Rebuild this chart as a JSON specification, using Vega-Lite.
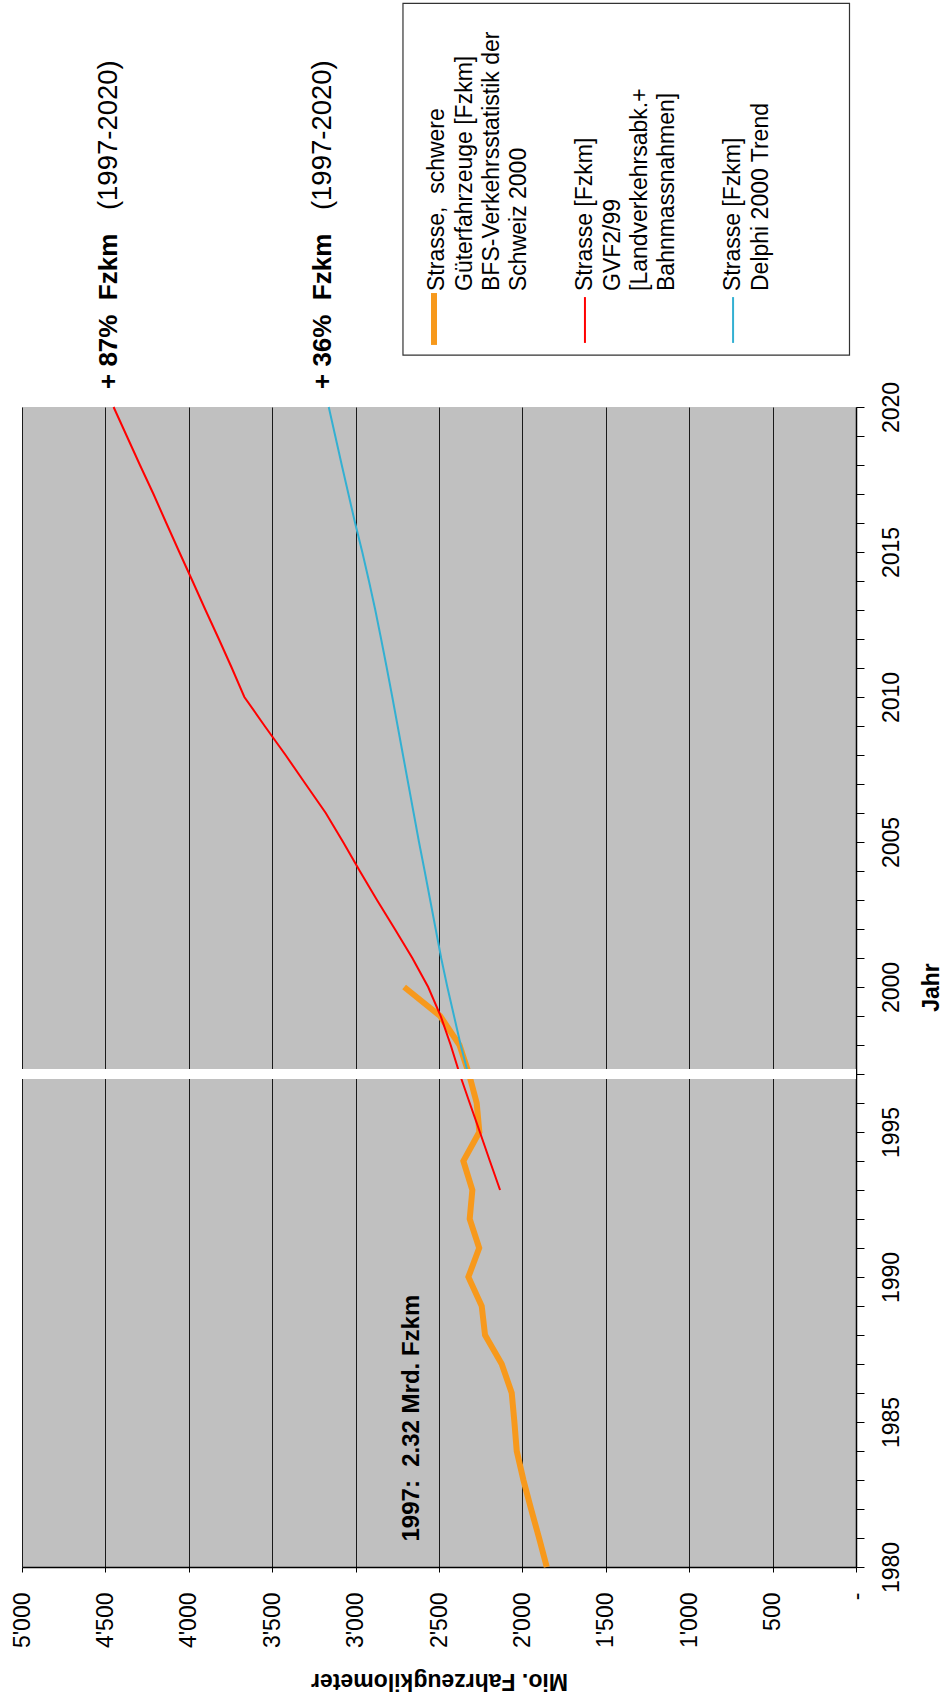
{
  "$schema": "https://vega.github.io/schema/vega-lite/v6.json",
  "width": 834,
  "height": 1160,
  "autosize": {"type": "none"},
  "padding": {"left": 22, "top": 407, "right": 90, "bottom": 130},
  "background": "white",
  "config": {
    "view": {"fill": "#C0C0C0", "stroke": null},
    "font": "Liberation Sans",
    "text": {"font": "Liberation Sans"}
  },
  "resolve": {"axis": {"x": "independent", "y": "independent"}},
  "datasets": {
    "series": [
      {"series": "BFS", "year": 1980, "value": 1854},
      {"series": "BFS", "year": 1981, "value": 1900},
      {"series": "BFS", "year": 1982, "value": 1948},
      {"series": "BFS", "year": 1983, "value": 1994},
      {"series": "BFS", "year": 1984, "value": 2034},
      {"series": "BFS", "year": 1985, "value": 2048},
      {"series": "BFS", "year": 1986, "value": 2064},
      {"series": "BFS", "year": 1987, "value": 2124},
      {"series": "BFS", "year": 1988, "value": 2224},
      {"series": "BFS", "year": 1989, "value": 2244},
      {"series": "BFS", "year": 1990, "value": 2324},
      {"series": "BFS", "year": 1991, "value": 2259},
      {"series": "BFS", "year": 1992, "value": 2316},
      {"series": "BFS", "year": 1993, "value": 2300},
      {"series": "BFS", "year": 1994, "value": 2354},
      {"series": "BFS", "year": 1995, "value": 2258},
      {"series": "BFS", "year": 1996, "value": 2274},
      {"series": "BFS", "year": 1997, "value": 2320},
      {"series": "BFS", "year": 1998, "value": 2377},
      {"series": "BFS", "year": 1999, "value": 2493},
      {"series": "BFS", "year": 2000, "value": 2709},
      {"series": "Delphi", "year": 1997, "value": 2325},
      {"series": "Delphi", "year": 1998, "value": 2370},
      {"series": "Delphi", "year": 1999, "value": 2410},
      {"series": "Delphi", "year": 2000, "value": 2450},
      {"series": "Delphi", "year": 2001, "value": 2487},
      {"series": "Delphi", "year": 2002, "value": 2520},
      {"series": "Delphi", "year": 2003, "value": 2553},
      {"series": "Delphi", "year": 2004, "value": 2586},
      {"series": "Delphi", "year": 2005, "value": 2620},
      {"series": "Delphi", "year": 2006, "value": 2652},
      {"series": "Delphi", "year": 2007, "value": 2684},
      {"series": "Delphi", "year": 2008, "value": 2716},
      {"series": "Delphi", "year": 2009, "value": 2748},
      {"series": "Delphi", "year": 2010, "value": 2780},
      {"series": "Delphi", "year": 2011, "value": 2813},
      {"series": "Delphi", "year": 2012, "value": 2847},
      {"series": "Delphi", "year": 2013, "value": 2882},
      {"series": "Delphi", "year": 2014, "value": 2920},
      {"series": "Delphi", "year": 2015, "value": 2960},
      {"series": "Delphi", "year": 2016, "value": 3003},
      {"series": "Delphi", "year": 2017, "value": 3043},
      {"series": "Delphi", "year": 2018, "value": 3083},
      {"series": "Delphi", "year": 2019, "value": 3122},
      {"series": "Delphi", "year": 2020, "value": 3161},
      {"series": "GVF", "year": 1993, "value": 2134},
      {"series": "GVF", "year": 1994, "value": 2195},
      {"series": "GVF", "year": 1995, "value": 2255},
      {"series": "GVF", "year": 1996, "value": 2316},
      {"series": "GVF", "year": 1997, "value": 2376},
      {"series": "GVF", "year": 1998, "value": 2430},
      {"series": "GVF", "year": 1999, "value": 2490},
      {"series": "GVF", "year": 2000, "value": 2565},
      {"series": "GVF", "year": 2001, "value": 2660},
      {"series": "GVF", "year": 2002, "value": 2765},
      {"series": "GVF", "year": 2003, "value": 2872},
      {"series": "GVF", "year": 2004, "value": 2975},
      {"series": "GVF", "year": 2005, "value": 3075},
      {"series": "GVF", "year": 2006, "value": 3179},
      {"series": "GVF", "year": 2007, "value": 3300},
      {"series": "GVF", "year": 2008, "value": 3420},
      {"series": "GVF", "year": 2009, "value": 3545},
      {"series": "GVF", "year": 2010, "value": 3667},
      {"series": "GVF", "year": 2011, "value": 3742},
      {"series": "GVF", "year": 2012, "value": 3820},
      {"series": "GVF", "year": 2013, "value": 3900},
      {"series": "GVF", "year": 2014, "value": 3978},
      {"series": "GVF", "year": 2015, "value": 4057},
      {"series": "GVF", "year": 2016, "value": 4135},
      {"series": "GVF", "year": 2017, "value": 4212},
      {"series": "GVF", "year": 2018, "value": 4293},
      {"series": "GVF", "year": 2019, "value": 4372},
      {"series": "GVF", "year": 2020, "value": 4451}
    ]
  },
  "layer": [
    {
      "data": {"name": "series"},
      "mark": {"type": "line", "strokeCap": "butt", "strokeJoin": "miter"},
      "encoding": {
        "x": {
          "field": "value",
          "type": "quantitative",
          "scale": {"domain": [0, 5000], "reverse": true, "nice": false, "zero": false},
          "axis": {
            "orient": "bottom",
            "values": [0, 500, 1000, 1500, 2000, 2500, 3000, 3500, 4000, 4500, 5000],
            "grid": true,
            "gridColor": "#1a1a1a",
            "gridOpacity": 1,
            "gridWidth": 1,
            "domainColor": "#000000",
            "domainWidth": 1.5,
            "tickColor": "#000000",
            "tickSize": 5,
            "labelAngle": 270,
            "labelAlign": "right",
            "labelBaseline": "middle",
            "labelPadding": 20,
            "labelFontSize": 23,
            "labelColor": "#000000",
            "labelFlush": false,
            "labelOverlap": false,
            "labelExpr": "datum.value == 0 ? '-' : replace(format(datum.value, ','), ',', \"'\")",
            "title": "Mio. Fahrzeugkilometer",
            "titleAngle": 180,
            "titleFontSize": 23,
            "titleFontWeight": "bold",
            "titleColor": "#000000",
            "titleY": 113,
            "titleBaseline": "middle",
            "titleAlign": "center"
          }
        },
        "y": {
          "field": "year",
          "type": "quantitative",
          "scale": {"domain": [1980, 2020], "nice": false, "zero": false},
          "axis": {
            "orient": "right",
            "values": [1980, 1981, 1982, 1983, 1984, 1985, 1986, 1987, 1988, 1989, 1990, 1991, 1992, 1993, 1994, 1995, 1996, 1997, 1998, 1999, 2000, 2001, 2002, 2003, 2004, 2005, 2006, 2007, 2008, 2009, 2010, 2011, 2012, 2013, 2014, 2015, 2016, 2017, 2018, 2019, 2020],
            "grid": false,
            "domainColor": "#000000",
            "domainWidth": 1.5,
            "tickColor": "#000000",
            "tickSize": 8,
            "labelAngle": 270,
            "labelAlign": "center",
            "labelBaseline": "top",
            "labelPadding": 16,
            "labelFontSize": 23,
            "labelColor": "#000000",
            "labelOverlap": false,
            "labelFlush": false,
            "labelExpr": "datum.value % 5 == 0 ? '' + datum.value : ''",
            "title": "Jahr",
            "titleAngle": 270,
            "titleFontSize": 23,
            "titleFontWeight": "bold",
            "titleColor": "#000000",
            "titleX": 75,
            "titleY": 580,
            "titleAlign": "center",
            "titleBaseline": "middle"
          }
        },
        "order": {"field": "year", "type": "quantitative"},
        "color": {
          "field": "series",
          "type": "nominal",
          "scale": {"domain": ["BFS", "Delphi", "GVF"], "range": ["#F7991C", "#33B0D2", "#FF0000"]},
          "legend": null
        },
        "strokeWidth": {
          "field": "series",
          "type": "nominal",
          "scale": {"type": "ordinal", "domain": ["BFS", "Delphi", "GVF"], "range": [6, 2, 2]},
          "legend": null
        }
      }
    },
    {
      "data": {"values": [{"gap": "1997"}]},
      "mark": {"type": "rule", "color": "white", "strokeWidth": 10},
      "encoding": {"y": {"datum": 1997, "type": "quantitative", "axis": null}}
    },
    {
      "data": {"values": [{"label": "1997:\u00a0 2.32 Mrd. Fzkm"}]},
      "mark": {"type": "text", "angle": 270, "align": "left", "baseline": "middle", "fontSize": 24, "fontWeight": "bold", "color": "#000000"},
      "encoding": {
        "x": {"datum": 2659, "type": "quantitative", "axis": null},
        "y": {"datum": 1980.88, "type": "quantitative", "axis": null},
        "text": {"field": "label"}
      }
    },
    {
      "data": {"values": [{"label": "+ 87%\u00a0 Fzkm"}]},
      "mark": {"type": "text", "angle": 270, "align": "left", "baseline": "middle", "fontSize": 26, "fontWeight": "bold", "color": "#000000"},
      "encoding": {
        "x": {"datum": 4481, "type": "quantitative", "axis": null},
        "y": {"datum": 2020.62, "type": "quantitative", "axis": null},
        "text": {"field": "label"}
      }
    },
    {
      "data": {"values": [{"label": "(1997-2020)"}]},
      "mark": {"type": "text", "angle": 270, "align": "left", "baseline": "middle", "fontSize": 27.5, "color": "#000000"},
      "encoding": {
        "x": {"datum": 4481, "type": "quantitative", "axis": null},
        "y": {"datum": 2026.79, "type": "quantitative", "axis": null},
        "text": {"field": "label"}
      }
    },
    {
      "data": {"values": [{"label": "+ 36%\u00a0 Fzkm"}]},
      "mark": {"type": "text", "angle": 270, "align": "left", "baseline": "middle", "fontSize": 26, "fontWeight": "bold", "color": "#000000"},
      "encoding": {
        "x": {"datum": 3198, "type": "quantitative", "axis": null},
        "y": {"datum": 2020.62, "type": "quantitative", "axis": null},
        "text": {"field": "label"}
      }
    },
    {
      "data": {"values": [{"label": "(1997-2020)"}]},
      "mark": {"type": "text", "angle": 270, "align": "left", "baseline": "middle", "fontSize": 27.5, "color": "#000000"},
      "encoding": {
        "x": {"datum": 3198, "type": "quantitative", "axis": null},
        "y": {"datum": 2026.79, "type": "quantitative", "axis": null},
        "text": {"field": "label"}
      }
    },
    {
      "data": {"values": [{"box": "legend"}]},
      "mark": {"type": "rect", "fill": "white", "stroke": "#333333", "strokeWidth": 1.2},
      "encoding": {
        "x": {"datum": 2716, "type": "quantitative", "axis": null},
        "x2": {"datum": 39},
        "y": {"datum": 2033.92, "type": "quantitative", "axis": null},
        "y2": {"datum": 2021.79}
      }
    },
    {
      "data": {"values": [{"series": "BFS"}]},
      "mark": {"type": "rule", "color": "#F7991C", "strokeWidth": 6, "strokeCap": "butt"},
      "encoding": {
        "x": {"datum": 2530, "type": "quantitative", "axis": null},
        "y": {"datum": 2023.93, "type": "quantitative", "axis": null},
        "y2": {"datum": 2022.14}
      }
    },
    {
      "data": {"values": [{"series": "GVF"}]},
      "mark": {"type": "rule", "color": "#FF0000", "strokeWidth": 2, "strokeCap": "butt"},
      "encoding": {
        "x": {"datum": 1625, "type": "quantitative", "axis": null},
        "y": {"datum": 2023.79, "type": "quantitative", "axis": null},
        "y2": {"datum": 2022.21}
      }
    },
    {
      "data": {"values": [{"series": "Delphi"}]},
      "mark": {"type": "rule", "color": "#33B0D2", "strokeWidth": 2, "strokeCap": "butt"},
      "encoding": {
        "x": {"datum": 737, "type": "quantitative", "axis": null},
        "y": {"datum": 2023.79, "type": "quantitative", "axis": null},
        "y2": {"datum": 2022.21}
      }
    },
    {
      "data": {"values": [{"label": ["Strasse,\u00a0 schwere", "Güterfahrzeuge [Fzkm]", "BFS-Verkehrsstatistik der", "Schweiz 2000"]}]},
      "mark": {"type": "text", "angle": 270, "align": "left", "baseline": "top", "fontSize": 23, "lineHeight": 27.3, "color": "#000000"},
      "encoding": {
        "x": {"datum": 2576, "type": "quantitative", "axis": null},
        "y": {"datum": 2024.0, "type": "quantitative", "axis": null},
        "text": {"field": "label"}
      }
    },
    {
      "data": {"values": [{"label": ["Strasse [Fzkm]", "GVF2/99", "[Landverkehrsabk.+", "Bahnmassnahmen]"]}]},
      "mark": {"type": "text", "angle": 270, "align": "left", "baseline": "top", "fontSize": 23, "lineHeight": 27.3, "color": "#000000"},
      "encoding": {
        "x": {"datum": 1689, "type": "quantitative", "axis": null},
        "y": {"datum": 2024.0, "type": "quantitative", "axis": null},
        "text": {"field": "label"}
      }
    },
    {
      "data": {"values": [{"label": ["Strasse [Fzkm]", "Delphi 2000 Trend"]}]},
      "mark": {"type": "text", "angle": 270, "align": "left", "baseline": "top", "fontSize": 23, "lineHeight": 27.3, "color": "#000000"},
      "encoding": {
        "x": {"datum": 802, "type": "quantitative", "axis": null},
        "y": {"datum": 2024.0, "type": "quantitative", "axis": null},
        "text": {"field": "label"}
      }
    }
  ]
}
